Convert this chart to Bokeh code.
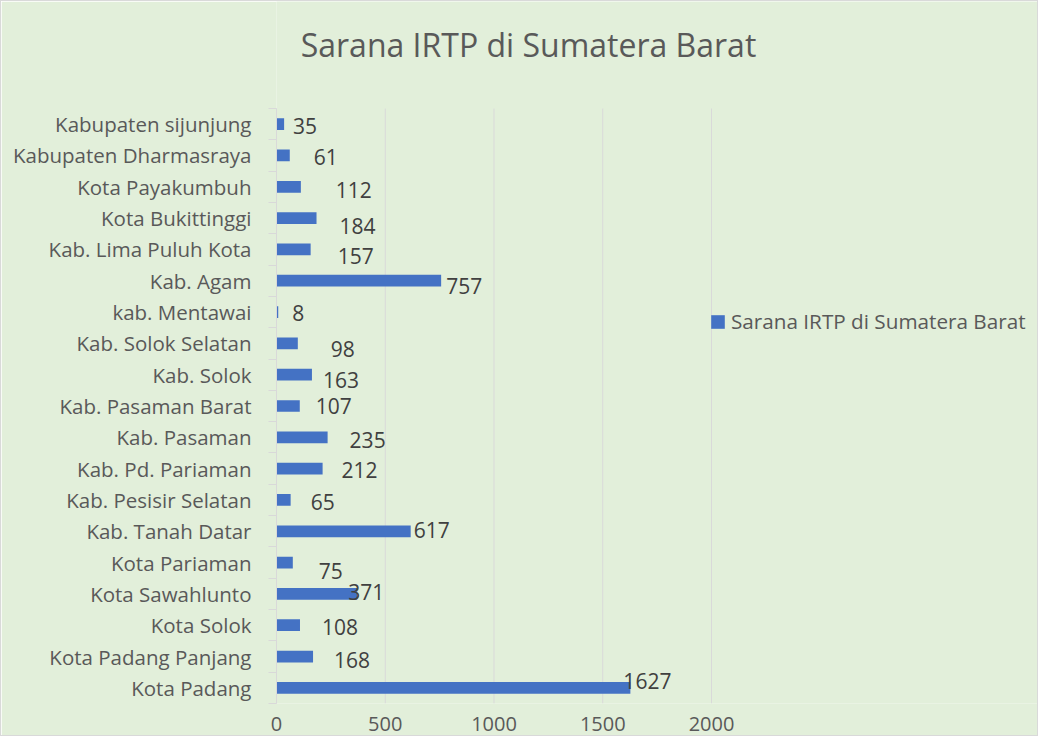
from bokeh.plotting import figure
from bokeh.models import ColumnDataSource, Range1d, FixedTicker, Legend, LegendItem, Label
from bokeh.core.properties import value
from bokeh.embed import file_html
from bokeh.resources import INLINE

# ---- data (bottom to top, as in the reference) ----
categories = [
    "Kota Padang", "Kota Padang Panjang", "Kota Solok", "Kota Sawahlunto",
    "Kota Pariaman", "Kab. Tanah Datar", "Kab. Pesisir Selatan",
    "Kab. Pd. Pariaman", "Kab. Pasaman", "Kab. Pasaman Barat", "Kab. Solok",
    "Kab. Solok Selatan", "kab. Mentawai", "Kab. Agam", "Kab. Lima Puluh Kota",
    "Kota Bukittinggi", "Kota Payakumbuh", "Kabupaten Dharmasraya",
    "Kabupaten sijunjung",
]
values = [1627, 168, 108, 371, 75, 617, 65, 212, 235, 107, 163, 98, 8, 757,
          157, 184, 112, 61, 35]
series_name = "Sarana IRTP di Sumatera Barat"
chart_title = "Sarana IRTP di Sumatera Barat"
x_ticks = [0, 500, 1000, 1500, 2000]
x_max = 2000

# data-label placement offsets in pixels (label style, as placed in the original)
label_dx = [-7, 21, 22, -9, 26, 3, 20, 19, 22, 16, 11, 33, 14, 5, 27, 23, 35, 24, 9]
label_dy = [-7, 3, 2, -2, 8, -1, 2, 1, 3, 0, 5, 6, 1, 5, 7, 8, 3, 2, 2]

FONT = "Open Sans"
BG = "#E2EFDA"
GRID = "#D9D9D9"
TXT = "#595959"
BAR = "#4472C4"

# ---- layout (pixels) ----
W, H = 1038, 736
LEFT, BOTTOM = 275, 34
PLOT_W, PLOT_H = 435, 595          # width of the 0..2000 band, height of the bar band
frame_w = W - LEFT
frame_h = H - BOTTOM
n = len(categories)
y0, y1 = -0.5, n - 0.5
x_end = x_max * frame_w / PLOT_W
y_end = y0 + (y1 - y0) * frame_h / PLOT_H

pos = list(range(n))
src = ColumnDataSource(dict(
    y=pos, v=values, lab=[str(v) for v in values], dx=label_dx, dy=label_dy,
))

p = figure(
    width=W, height=H, output_backend="svg", toolbar_location=None,
    x_range=Range1d(0, x_end), y_range=Range1d(y0, y_end),
    min_border_left=LEFT, min_border_right=0, min_border_top=0,
    min_border_bottom=BOTTOM,
)
p.title = None
p.background_fill_color = BG
p.border_fill_color = BG
p.outline_line_color = None
p.xgrid.grid_line_color = None
p.ygrid.grid_line_color = None

# vertical gridlines at the tick values, over the bar band only
p.segment(x0=x_ticks, x1=x_ticks, y0=y0, y1=y1, line_color=GRID, line_width=1)

bars = p.hbar(y="y", left=0, right="v", height=0.375, source=src,
              fill_color=BAR, line_color=None)

p.text(x="v", y="y", text="lab", source=src, x_offset="dx", y_offset="dy",
       text_align="left", text_baseline="middle", text_font=value(FONT),
       text_font_size="21px", text_color="#404040")

# title
p.add_layout(Label(x=252, y=659, x_units="screen", y_units="screen",
                   text=chart_title, text_align="center",
                   text_baseline="alphabetic", text_font=FONT,
                   text_font_size="32px", text_color=TXT))

# x axis
xa = p.xaxis[0]
xa.ticker = FixedTicker(ticks=x_ticks)
xa.axis_line_color = None
xa.major_tick_line_color = None
xa.minor_tick_line_color = None
xa.major_label_standoff = 7
xa.major_label_text_font = FONT
xa.major_label_text_font_size = "20px"
xa.major_label_text_color = TXT

# y axis (categories)
ya = p.yaxis[0]
ya.bounds = (y0, y1)
ya.ticker = FixedTicker(ticks=pos, minor_ticks=[i - 0.5 for i in range(n + 1)])
ya.major_label_overrides = {i: c for i, c in zip(pos, categories)}
ya.axis_line_color = GRID
ya.major_tick_line_color = None
ya.minor_tick_line_color = GRID
ya.minor_tick_out = 8
ya.minor_tick_in = 0
ya.major_label_standoff = 17
ya.major_label_text_font = FONT
ya.major_label_text_font_size = "20.5px"
ya.major_label_text_color = TXT

legend = Legend(items=[LegendItem(label=series_name, renderers=[bars])],
                location=(433, 368), margin=0, padding=0,
                border_line_color=None, background_fill_alpha=0,
                glyph_width=17, glyph_height=17, label_standoff=5,
                label_text_font=FONT, label_text_font_size="20.7px",
                label_text_color=TXT, label_height=17)
p.add_layout(legend, "center")

p.styles = {"border": "1px solid #D9D9D9"}

open("out.html", "w").write(file_html(p, INLINE))
